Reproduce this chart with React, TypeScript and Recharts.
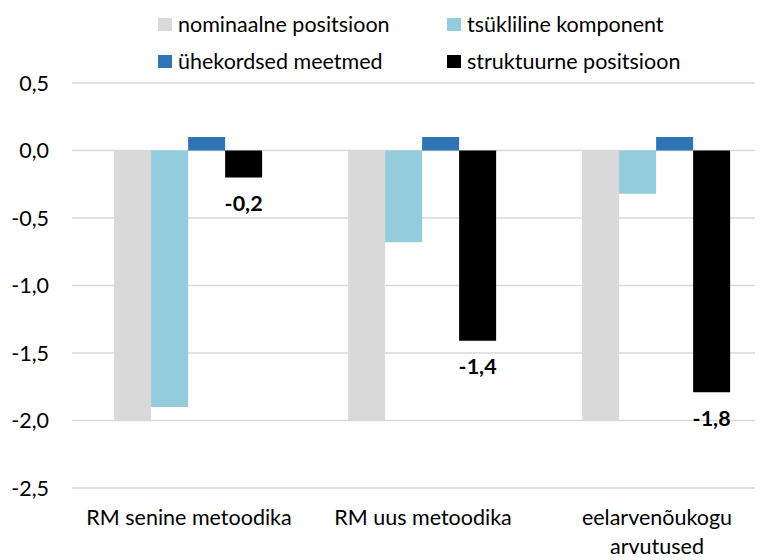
import { BarChart, Bar, XAxis, YAxis, CartesianGrid, LabelList } from "recharts";

const categories = ["RM senine metoodika", "RM uus metoodika", "eelarvenõukogu arvutused"];
const nominal = [-2.0, -2.0, -2.0];
const cyclical = [-1.9, -0.68, -0.32];
const oneOff = [0.1, 0.1, 0.1];
const structural = [-0.2, -1.41, -1.79];
const yTicks = [0.5, 0, -0.5, -1, -1.5, -2, -2.5];

const SERIES = [
  { key: "nominal", name: "nominaalne positsioon", color: "#D9D9D9" },
  { key: "cyclical", name: "tsükliline komponent", color: "#93CDDD" },
  { key: "oneOff", name: "ühekordsed meetmed", color: "#2E75B6" },
  { key: "structural", name: "struktuurne positsioon", color: "#000000" },
];

const data = categories.map((c, i) => ({
  name: c,
  nominal: nominal[i],
  cyclical: cyclical[i],
  oneOff: oneOff[i],
  structural: structural[i],
}));

const FONT = "Lato, 'Open Sans', sans-serif";
const FS = 21.5;
const fmt = (v: number) => v.toFixed(1).replace(".", ",");

function XTick(props: any) {
  const { x, y, payload } = props;
  const label: string = payload.value;
  // long labels go on two lines, like the original
  let lines = [label];
  if (label.length > 20) {
    const cut = label.lastIndexOf(" ");
    lines = [label.slice(0, cut), label.slice(cut + 1)];
  }
  return (
    <text x={x} y={y + 15} textAnchor="middle" fontSize={FS} fill="#000" fontFamily={FONT}>
      {lines.map((l, i) => (
        <tspan key={i} x={x} dy={i === 0 ? 0 : 29}>
          {l}
        </tspan>
      ))}
    </text>
  );
}

function EndLabel(props: any) {
  const { x, y, width, height, value } = props;
  const bottom = Math.max(y, y + height);
  return (
    <text x={x + width / 2} y={bottom + 28} textAnchor="middle" dominantBaseline="middle" fontSize={FS} fontWeight="bold" fontFamily={FONT} fill="#000">
      {fmt(value)}
    </text>
  );
}

const legendPos = [
  { left: 150, top: 3 },
  { left: 439, top: 3 },
  { left: 150, top: 40 },
  { left: 439, top: 40 },
];

export default function App() {
  return (
    <div style={{ position: "relative", width: 755, height: 550, overflow: "hidden", fontFamily: FONT }}>
      <BarChart
        width={770}
        height={550}
        data={data}
        margin={{ top: 75, right: 4, bottom: 0, left: 0 }}
        barCategoryGap="18%"
        barGap={0}
      >
        <CartesianGrid vertical={false} stroke="#D9D9D9" strokeWidth={1.5} />
        <YAxis
          domain={[-2.5, 0.5]}
          ticks={yTicks}
          width={64}
          axisLine={false}
          tickLine={false}
          tickMargin={17}
          tickFormatter={fmt}
          tick={{ fontSize: FS, fill: "#000", fontFamily: FONT }}
        />
        <XAxis
          dataKey="name"
          axisLine={false}
          tickLine={false}
          height={70}
          tickMargin={16}
          interval={0}
          tick={<XTick />}
        />
        {SERIES.map((s) => (
          <Bar key={s.key} dataKey={s.key} fill={s.color} isAnimationActive={false}>
            {s.key === "structural" && <LabelList dataKey="structural" content={<EndLabel />} />}
          </Bar>
        ))}
      </BarChart>
      {SERIES.map((s, i) => (
        <div
          key={s.key}
          style={{
            position: "absolute",
            left: legendPos[i].left,
            top: legendPos[i].top,
            height: 26,
            lineHeight: "26px",
            display: "flex",
            alignItems: "center",
            fontSize: FS,
            color: "#000",
            whiteSpace: "nowrap",
          }}
        >
          <span style={{ width: 14, height: 13, background: s.color, display: "inline-block", marginRight: 6 }} />
          {s.name}
        </div>
      ))}
    </div>
  );
}
